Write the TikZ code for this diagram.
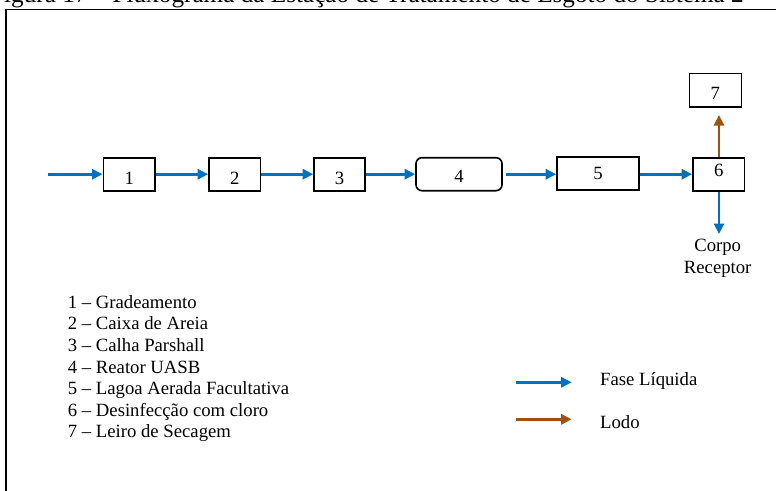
\documentclass[tikz,border=0pt]{standalone}
\usepackage{fontspec}
\setmainfont{Liberation Serif}
\usetikzlibrary{arrows.meta}
\definecolor{flowblue}{HTML}{0070C0}
\definecolor{sludgebrown}{HTML}{A0500F}
% shift a label vertically while keeping its natural box size
\newcommand{\numoffset}[2]{\raisebox{#1}[\height][\depth]{#2}}
\begin{document}
\begin{tikzpicture}[x=1pt,y=-1pt,
  every node/.style={font=\fontsize{18.7}{21.7}\selectfont, inner sep=0pt},
  unitbox/.style={draw=black, line width=1.6pt, minimum height=33pt, fill=white},
  liquid/.style={draw=flowblue, line width=2.8pt, -{Triangle[length=10.5pt,width=10pt]}},
  sludge/.style={draw=sludgebrown, line width=2.8pt, -{Triangle[length=10.5pt,width=10pt]}},
  legendtext/.style={anchor=base west},
]
\useasboundingbox (0,0) rectangle (776,490);

% caption and outer frame
\node[anchor=base west, font=\fontsize{25.2}{30}\selectfont] (caption) at (-10,2.5)
  {Figura 17 -- Fluxograma da Estação de Tratamento de Esgoto do Sistema 2};
\draw[line width=1.8pt] (6,520) -- (6,9.5) -- (800,9.5);

% treatment units
\node[unitbox, minimum width=51.7pt] (b1) at (129.2,174.2) {\numoffset{-4pt}{1}};
\node[unitbox, minimum width=51.7pt] (b2) at (234.8,174.2) {\numoffset{-4pt}{2}};
\node[unitbox, minimum width=51pt]   (b3) at (339.5,174.2) {\numoffset{-4pt}{3}};
\node[unitbox, minimum width=86pt, rounded corners=6pt] (b4) at (459,174.2) {\numoffset{-2.5pt}{4}};
\node[unitbox, minimum width=82pt]   (b5) at (598,173.2) {5};
\node[unitbox, minimum width=51.7pt] (b6) at (718.8,174.2) {\numoffset{4pt}{6}};
\node[unitbox, minimum width=52pt, minimum height=33.4pt] (b7) at (715.3,90) {\numoffset{-3.7pt}{7}};

% liquid line
\coordinate (inlet) at (48,174.2);
\draw[liquid] (inlet) -- (b1.west);
\draw[liquid] (b1.east) -- (b2.west);
\draw[liquid] (b2.east) -- (b3.west);
\draw[liquid] (b3.east) -- (b4.west);
\draw[liquid] ([xshift=3pt]b4.east) -- (b4.east -| b5.west);
\draw[liquid] (b6.west -| b5.east) -- (b6.west);

% sludge to drying bed, effluent to receiving water
\coordinate (sludgetip) at (719,115);
\draw[sludge] (b6.north -| sludgetip) -- (sludgetip);
\coordinate (outlet) at (719,234);
\draw[liquid] (b6.south -| outlet) -- (outlet);
\node[anchor=base] (receiver) at (717.7,251.5)
  {\begin{tabular}[t]{@{}c@{}}Corpo\\Receptor\end{tabular}};

% key to the numbered units
\node[legendtext] (k1) at (67.7,308.3) {1 -- Gradeamento};
\node[legendtext] (k2) at (67.7,329.9) {2 -- Caixa de Areia};
\node[legendtext] (k3) at (67.7,351.5) {3 -- Calha Parshall};
\node[legendtext] (k4) at (67.7,373.1) {4 -- Reator UASB};
\node[legendtext] (k5) at (67.7,394.7) {5 -- Lagoa Aerada Facultativa};
\node[legendtext] (k6) at (67.7,416.3) {6 -- Desinfecção com cloro};
\node[legendtext] (k7) at (67.7,437.9) {7 -- Leiro de Secagem};

% line legend
\coordinate (la1) at (516,382.3);
\coordinate (la2) at (571.7,382.3);
\coordinate (lb1) at (516,419.3);
\coordinate (lb2) at (571.7,419.3);
\draw[liquid] (la1) -- (la2);
\draw[sludge] (lb1) -- (lb2);
\node[legendtext] (lliq) at (600,385) {Fase Líquida};
\node[legendtext] (llodo) at (600,428.3) {Lodo};
\end{tikzpicture}
\end{document}
